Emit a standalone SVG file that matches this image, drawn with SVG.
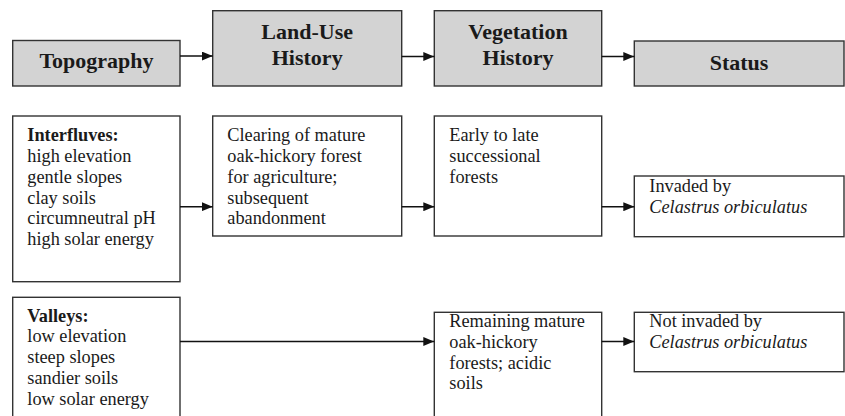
<svg xmlns="http://www.w3.org/2000/svg" width="845" height="416" viewBox="0 0 845 416">
<defs>
<marker id="ah" viewBox="0 0 11 9" refX="11" refY="4.5" markerWidth="11" markerHeight="9" markerUnits="userSpaceOnUse" orient="auto">
<path d="M0,0 L11,4.5 L0,9 z" fill="#111"/>
</marker>
<style>
.hd rect{fill:#d3d3d3;stroke:#333;stroke-width:1.4}
.bx rect{fill:#fff;stroke:#333;stroke-width:1.4}
.h{font-family:"Liberation Serif","Times New Roman",serif;font-weight:bold;font-size:22px;fill:#1a1a1a;text-anchor:middle}
.t{font-family:"Liberation Serif","Times New Roman",serif;font-size:18.3px;fill:#1a1a1a}
.b{font-weight:bold}
.i{font-style:italic}
.c line{stroke:#111;stroke-width:1.6}
</style>
</defs>
<rect width="845" height="416" fill="#fff"/>
<g id="topography" class="hd"><rect x="12.7" y="40.5" width="167.3" height="45.5"/><text class="h" x="96.5" y="68.3">Topography</text></g>
<g id="landuse" class="hd"><rect x="212.7" y="10.7" width="189" height="75.3"/><text class="h" x="307.2" y="38.8">Land-Use</text><text class="h" x="307.2" y="65">History</text></g>
<g id="vegetation" class="hd"><rect x="434.3" y="10.7" width="167.4" height="75.3"/><text class="h" x="518" y="38.8">Vegetation</text><text class="h" x="518" y="65">History</text></g>
<g id="status" class="hd"><rect x="634.3" y="41" width="209.7" height="45"/><text class="h" x="739" y="70.3">Status</text></g>

<g id="interfluves" class="bx"><rect x="12.7" y="116" width="167.3" height="165.7"/>
<text class="t" x="27.3"><tspan class="b" x="27.3" y="141">Interfluves:</tspan><tspan x="27.3" y="162">high elevation</tspan><tspan x="27.3" y="182.8">gentle slopes</tspan><tspan x="27.3" y="203.6">clay soils</tspan><tspan x="27.3" y="224.4">circumneutral pH</tspan><tspan x="27.3" y="245.2">high solar energy</tspan></text></g>
<g id="clearing" class="bx"><rect x="212.7" y="116" width="189" height="120"/>
<text class="t"><tspan x="227.3" y="141">Clearing of mature</tspan><tspan x="227.3" y="162">oak-hickory forest</tspan><tspan x="227.3" y="182.8">for agriculture;</tspan><tspan x="227.3" y="203.6">subsequent</tspan><tspan x="227.3" y="224.4">abandonment</tspan></text></g>
<g id="early" class="bx"><rect x="434.3" y="116" width="167.4" height="120"/>
<text class="t"><tspan x="449.3" y="141">Early to late</tspan><tspan x="449.3" y="162">successional</tspan><tspan x="449.3" y="182.8">forests</tspan></text></g>
<g id="invaded" class="bx"><rect x="634.3" y="176" width="209.7" height="60.7"/>
<text class="t"><tspan x="649.3" y="192">Invaded by</tspan><tspan class="i" x="649.3" y="213">Celastrus orbiculatus</tspan></text></g>

<g id="valleys" class="bx"><rect x="12.7" y="297.3" width="167.3" height="130"/>
<text class="t"><tspan class="b" x="27.3" y="321.5">Valleys:</tspan><tspan x="27.3" y="342.3">low elevation</tspan><tspan x="27.3" y="363.1">steep slopes</tspan><tspan x="27.3" y="383.9">sandier soils</tspan><tspan x="27.3" y="404.7">low solar energy</tspan></text></g>
<g id="remaining" class="bx"><rect x="434.3" y="312.3" width="167.4" height="120"/>
<text class="t"><tspan x="449.3" y="327">Remaining mature</tspan><tspan x="449.3" y="347.8">oak-hickory</tspan><tspan x="449.3" y="368.6">forests; acidic</tspan><tspan x="449.3" y="389.4">soils</tspan></text></g>
<g id="notinvaded" class="bx"><rect x="634.3" y="312.3" width="209.7" height="59.4"/>
<text class="t"><tspan x="649.3" y="326.7">Not invaded by</tspan><tspan class="i" x="649.3" y="347.5">Celastrus orbiculatus</tspan></text></g>

<g id="connectors" class="c">
<line x1="180" y1="56" x2="212.7" y2="56" marker-end="url(#ah)"/>
<line x1="401.7" y1="56.5" x2="434.3" y2="56.5" marker-end="url(#ah)"/>
<line x1="601.7" y1="56.5" x2="634.3" y2="56.5" marker-end="url(#ah)"/>
<line x1="180" y1="206.7" x2="212.7" y2="206.7" marker-end="url(#ah)"/>
<line x1="401.7" y1="206.7" x2="434.3" y2="206.7" marker-end="url(#ah)"/>
<line x1="601.7" y1="206.7" x2="634.3" y2="206.7" marker-end="url(#ah)"/>
<line x1="180" y1="341.5" x2="434.3" y2="341.5" marker-end="url(#ah)"/>
<line x1="601.7" y1="341.5" x2="634.3" y2="341.5" marker-end="url(#ah)"/>
</g>
</svg>
